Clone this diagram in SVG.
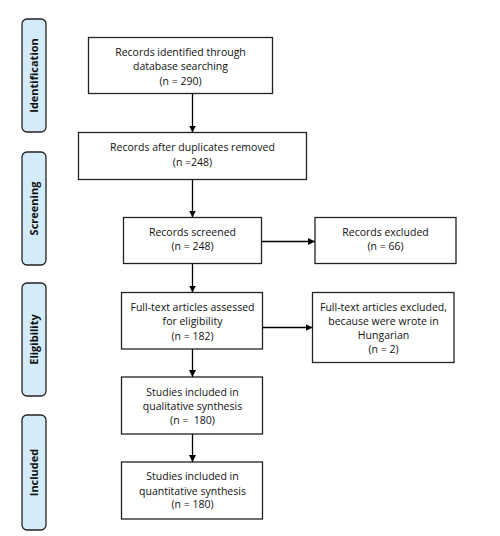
<svg xmlns="http://www.w3.org/2000/svg" width="500" height="536" viewBox="0 0 500 536">
<defs>
<marker id="ah" markerWidth="8" markerHeight="8" refX="7" refY="4" orient="auto" markerUnits="userSpaceOnUse">
<path d="M0,0.5 L7,4 L0,7.5 Z" fill="#000"/>
</marker>
<style>
.box{fill:#fff;stroke:#222;stroke-width:1.3}
.side{fill:#d4ecf9;stroke:#222;stroke-width:1.3}
.t{font-family:"Open Sans","Liberation Sans",sans-serif;font-size:10.5px;fill:#111;text-anchor:middle}
.s{font-family:"Open Sans","Liberation Sans",sans-serif;font-size:11px;font-weight:bold;fill:#111;text-anchor:middle}
.c{stroke:#000;stroke-width:1.3;fill:none;marker-end:url(#ah)}
</style>
</defs>
<rect width="500" height="536" fill="#fff"/>
<g id="side-identification"><rect class="side" x="22" y="19" width="24" height="113" rx="5"/><text class="s" transform="translate(38,75.5) rotate(-90)">Identification</text></g>
<g id="side-screening"><rect class="side" x="22" y="152" width="24" height="113" rx="5"/><text class="s" transform="translate(38,208.5) rotate(-90)">Screening</text></g>
<g id="side-eligibility"><rect class="side" x="22" y="283" width="24" height="113" rx="5"/><text class="s" transform="translate(38,339.5) rotate(-90)">Eligibility</text></g>
<g id="side-included"><rect class="side" x="22" y="415" width="24" height="115" rx="5"/><text class="s" transform="translate(38,472.5) rotate(-90)">Included</text></g>
<g id="n1"><rect class="box" x="88.5" y="37.5" width="184" height="56"/>
<text class="t" x="180.5" y="55.5">Records identified through</text>
<text class="t" x="180.5" y="70">database searching</text>
<text class="t" x="180.5" y="84.5">(n = 290)</text></g>
<g id="n2"><rect class="box" x="78.5" y="132.5" width="228" height="47"/>
<text class="t" x="192.5" y="150.5">Records after duplicates removed</text>
<text class="t" x="192.5" y="165.5">(n =248)</text></g>
<g id="n3"><rect class="box" x="123.5" y="217.5" width="138" height="46"/>
<text class="t" x="192.5" y="235.5">Records screened</text>
<text class="t" x="192.5" y="249.5">(n = 248)</text></g>
<g id="n4"><rect class="box" x="315" y="217.5" width="141" height="46"/>
<text class="t" x="385.5" y="235.5">Records excluded</text>
<text class="t" x="385.5" y="249.5">(n = 66)</text></g>
<g id="n5"><rect class="box" x="121.5" y="292.5" width="141" height="56.5"/>
<text class="t" x="192.5" y="310.5">Full-text articles assessed</text>
<text class="t" x="192.5" y="325">for eligibility</text>
<text class="t" x="192.5" y="339.5">(n = 182)</text></g>
<g id="n6"><rect class="box" x="312.5" y="292.5" width="141.5" height="70"/>
<text class="t" x="383.5" y="310.5">Full-text articles excluded,</text>
<text class="t" x="383.5" y="325">because were wrote in</text>
<text class="t" x="383.5" y="338.5">Hungarian</text>
<text class="t" x="383.5" y="353">(n = 2)</text></g>
<g id="n7"><rect class="box" x="121.5" y="377" width="141" height="57"/>
<text class="t" x="192.5" y="395.5">Studies included in</text>
<text class="t" x="192.5" y="410">qualitative synthesis</text>
<text class="t" x="192.5" y="424" xml:space="preserve">(n =  180)</text></g>
<g id="n8"><rect class="box" x="121.5" y="462" width="141" height="57"/>
<text class="t" x="192.5" y="480">Studies included in</text>
<text class="t" x="192.5" y="494.5">quantitative synthesis</text>
<text class="t" x="192.5" y="508">(n = 180)</text></g>
<g id="connectors">
<line class="c" x1="192.5" y1="93.5" x2="192.5" y2="132.5"/>
<line class="c" x1="192.5" y1="179.5" x2="192.5" y2="217.5"/>
<line class="c" x1="261.5" y1="241.5" x2="315" y2="241.5"/>
<line class="c" x1="192.5" y1="263.5" x2="192.5" y2="292.5"/>
<line class="c" x1="262.5" y1="327.5" x2="312.5" y2="327.5"/>
<line class="c" x1="192.5" y1="349" x2="192.5" y2="377"/>
<line class="c" x1="192.5" y1="434" x2="192.5" y2="462"/>
</g>
</svg>
